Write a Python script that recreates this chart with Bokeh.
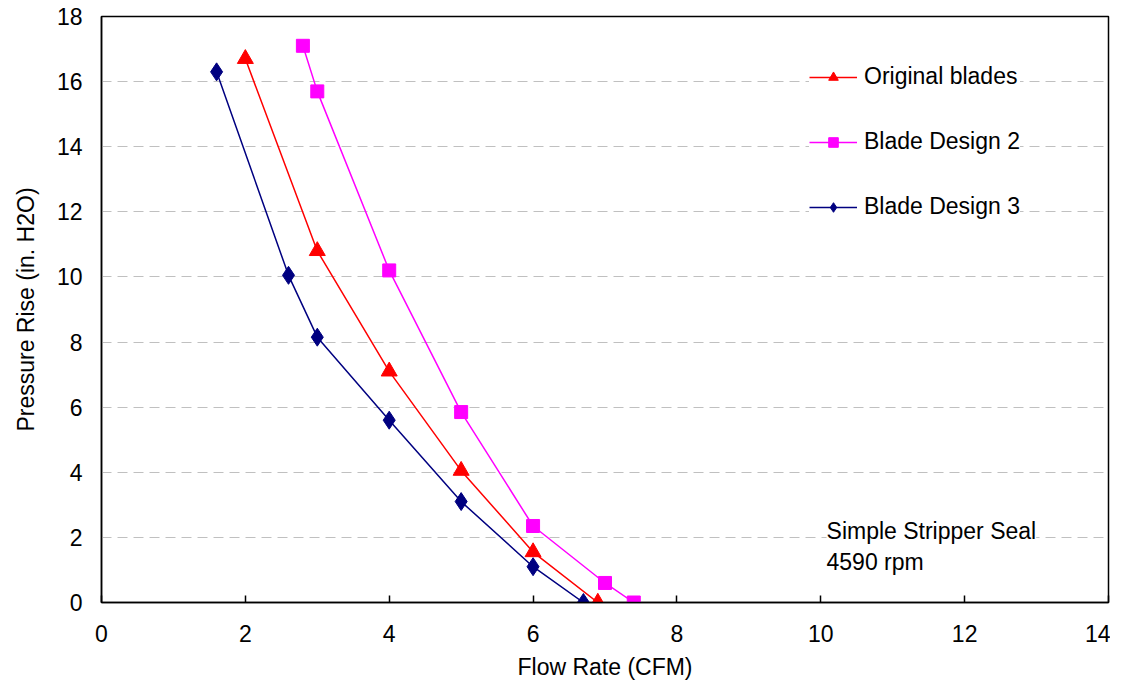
from bokeh.plotting import figure
from bokeh.models import Legend, LegendItem, Label, Range1d, FixedTicker
from bokeh.embed import file_html
from bokeh.resources import INLINE

# Data
orig_x = [2.0, 3.0, 4.0, 5.0, 6.0, 6.9]
orig_y = [16.7, 10.8, 7.1, 4.05, 1.55, 0.0]

d2_x = [2.8, 3.0, 4.0, 5.0, 6.0, 7.0, 7.4]
d2_y = [17.1, 15.7, 10.2, 5.85, 2.35, 0.6, 0.0]

d3_x = [1.6, 2.6, 3.0, 4.0, 5.0, 6.0, 6.7]
d3_y = [16.3, 10.05, 8.15, 5.6, 3.1, 1.1, 0.0]

x_ticks = [0, 2, 4, 6, 8, 10, 12, 14]
y_ticks = [0, 2, 4, 6, 8, 10, 12, 14, 16, 18]

FONT = "Liberation Sans"
FS = "23px"

p = figure(width=1110, height=683, output_backend="svg", toolbar_location=None,
           x_range=Range1d(0, 14), y_range=Range1d(0, 18),
           min_border_left=101, min_border_right=2, min_border_top=16, min_border_bottom=81)
p.background_fill_color = "white"
p.border_fill_color = "white"
p.outline_line_color = "black"
p.outline_line_width = 1.5

p.xaxis.ticker = FixedTicker(ticks=x_ticks)
p.yaxis.ticker = FixedTicker(ticks=y_ticks)
p.xaxis.minor_tick_line_color = None
p.yaxis.minor_tick_line_color = None
p.xaxis.major_tick_out = 0
p.xaxis.major_tick_in = 7
p.yaxis.major_tick_out = 0
p.yaxis.major_tick_in = 0
for ax in (p.xaxis, p.yaxis):
    ax.axis_line_color = "black"
    ax.axis_line_width = 1.5
    ax.major_tick_line_color = "black"
    ax.major_tick_line_width = 1.5
    ax.major_label_text_font = FONT
    ax.major_label_text_font_size = FS
    ax.major_label_text_color = "black"
    ax.axis_label_text_font = FONT
    ax.axis_label_text_font_size = FS
    ax.axis_label_text_font_style = "normal"
    ax.axis_label_text_color = "black"
p.xaxis.major_label_standoff = 22
p.yaxis.major_label_standoff = 19
p.xaxis.axis_label = "Flow Rate (CFM)"
p.yaxis.axis_label = "Pressure Rise (in. H2O)"
p.xaxis.axis_label_standoff = 9
p.yaxis.axis_label_standoff = 15

p.xgrid.grid_line_color = None
p.ygrid.grid_line_color = "#C0C0C0"
p.ygrid.grid_line_dash = "10 6"
p.ygrid.grid_line_width = 1.2

l1 = p.line(orig_x, orig_y, line_color="#FF0000", line_width=1.5)
m1 = p.scatter(orig_x, orig_y, marker="triangle", size=16, fill_color="#FF0000", line_color="#FF0000")
l2 = p.line(d2_x, d2_y, line_color="#FF00FF", line_width=1.5)
m2 = p.scatter(d2_x, d2_y, marker="square", size=13, fill_color="#FF00FF", line_color="#FF00FF")
l3 = p.line(d3_x, d3_y, line_color="#000080", line_width=1.5)
m3 = p.scatter(d3_x, d3_y, marker="diamond", size=18, fill_color="#000080", line_color="#000080")

legend = Legend(items=[
    LegendItem(label="Original blades", renderers=[l1, m1]),
    LegendItem(label="Blade Design 2", renderers=[l2, m2]),
    LegendItem(label="Blade Design 3", renderers=[l3, m3]),
], location=(708, 382))
legend.label_text_font = FONT
legend.label_text_font_size = FS
legend.label_text_color = "black"
legend.glyph_width = 48
legend.glyph_height = 24
legend.label_height = 24
legend.spacing = 38
legend.label_standoff = 7
legend.padding = 10
legend.border_line_color = None
legend.background_fill_color = "white"
legend.background_fill_alpha = 1.0
p.add_layout(legend, "center")

note = Label(x=10.08, y=2.60, text="Simple Stripper Seal\n4590 rpm",
             text_font=FONT, text_font_size=FS, text_color="black",
             text_baseline="top", text_align="left",
             background_fill_color="white", background_fill_alpha=1.0)
p.add_layout(note)

date = Label(x=14, y=18.22, text="5/13/2010", text_font=FONT, text_font_size=FS,
             text_color="black", text_align="right", text_baseline="alphabetic")
p.add_layout(date)

open("out.html", "w").write(file_html(p, INLINE))
